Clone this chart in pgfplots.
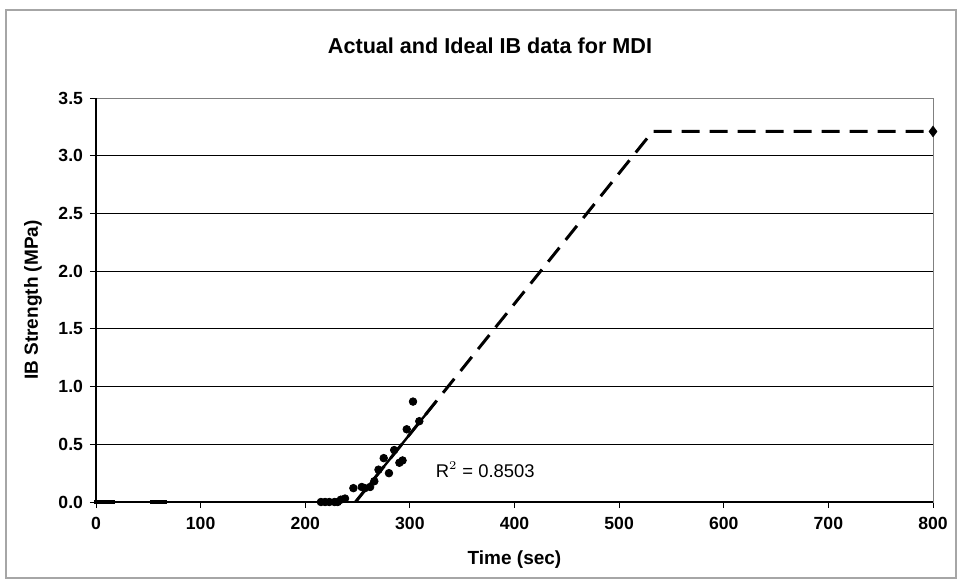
\documentclass[border=0pt]{standalone}
\usepackage{pgfplots}
\pgfplotsset{compat=1.18}
\usepackage{fontspec}
\setmainfont{Liberation Sans}
\begin{document}
\begin{tikzpicture}
\useasboundingbox (-48bp,-39.5bp) rectangle (432.5bp,251bp);
\draw[gray!70, line width=0.6bp] (-45bp,-38bp) rectangle (430bp,246bp);
\begin{axis}[
  at={(0,0)}, anchor=south west,
  scale only axis,
  width=418.5bp, height=202bp,
  xmin=0, xmax=800, ymin=0, ymax=3.5,
  xtick={0,100,...,800},
  ytick={0,0.5,...,3.5},
  yticklabel style={/pgf/number format/.cd, fixed, fixed zerofill, precision=1},
  /pgf/number format/assume math mode=true,
  tick label style={font=\fontsize{8.8bp}{10bp}\selectfont\bfseries},
  xticklabel style={yshift=-1bp},
  tick align=outside,
  major tick length=3bp,
  tick style={black, line width=0.5bp},
  xtick pos=bottom, ytick pos=left,
  ymajorgrids,
  grid style={black, line width=0.5bp},
  axis line style={gray, line width=0.5bp},
  clip=false,
  xlabel={\bfseries Time (sec)},
  ylabel={\bfseries IB Strength (MPa)},
  label style={font=\fontsize{9.5bp}{11bp}\selectfont},
  xlabel style={at={(axis description cs:0.5,0)}, anchor=center, yshift=-29bp},
  ylabel style={at={(axis description cs:0,0.5)}, anchor=center, yshift=31.5bp},
]
\draw[black, line width=0.8bp] (axis cs:0,3.5) -- (axis cs:0,0) -- (axis cs:800,0);
% ideal line (dashed)
\addplot[black, line width=1.5bp, dash pattern=on 9bp off 5bp, mark=none] coordinates {
(248,0) (532,3.21) (800,3.21)};
\addplot[only marks, mark=diamond*, mark size=2.6bp, black] coordinates {(800,3.21)};
% trendline
\addplot[black, line width=1.2bp, mark=none] coordinates {(248,0) (325,0.87)};
% actual data
\addplot[only marks, mark=*, mark size=1.9bp, black] coordinates {
(215,0) (219,0) (223,0) (228,0) (231,0)
(234,0.02) (238,0.03)
(246,0.12) (254,0.13) (257,0.12)
(262,0.13) (266,0.18)
(270,0.28) (275,0.38) (280,0.25) (285,0.45)
(290,0.34) (293,0.36)
(297,0.63) (303,0.87) (309,0.70)
};
\addplot[only marks, mark=square*, mark size=0.9bp, black] coordinates {
(0,0) (4,0) (8,0) (12,0) (16,0) (54,0) (58,0) (62,0) (66,0)
};
\node[anchor=west, font=\fontsize{9.2bp}{11bp}\selectfont] at (axis cs:318,0.28) {R$^{2}$ = 0.8503};
\end{axis}
\node[font=\fontsize{10.8bp}{12bp}\selectfont\bfseries] at (197bp,228bp) {Actual and Ideal IB data for MDI};
\end{tikzpicture}
\end{document}
